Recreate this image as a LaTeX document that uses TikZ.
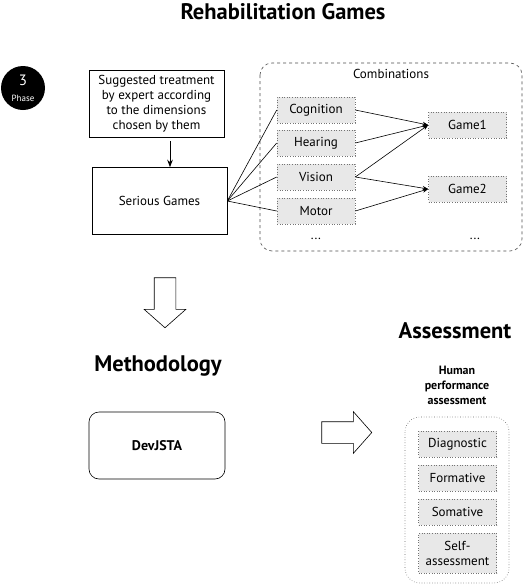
\documentclass[tikz,border=0pt]{standalone}
\usepackage{fontspec}
\setmainfont{PT Sans}
\usetikzlibrary{arrows.meta,shapes.arrows}

\begin{document}
\begin{tikzpicture}[x=1pt,y=-1pt,>=Stealth,line width=.6pt,
  every node/.style={font=\fontsize{13}{15}\selectfont,inner sep=0pt,align=center},
  bigtitle/.style={font=\bfseries\fontsize{22.5}{26}\selectfont},
  plainbox/.style={draw,minimum width=135,minimum height=67},
  dimbox/.style={draw=black!55,dotted,fill=black!9,minimum width=78,minimum height=26},
  hollow/.style={draw,single arrow,inner sep=10.5,single arrow head extend=10,
    minimum height=50,single arrow tip angle=97}]
\useasboundingbox (0,0) rectangle (527,584);

% top part
\node[bigtitle] (rehab) at (283,12) {Rehabilitation Games};
\node[circle,fill=black,text=white,minimum size=44] (phase) at (23,88)
  {\fontsize{15}{15}\selectfont 3\\[1pt]\fontsize{9}{10}\selectfont Phase};
\node[plainbox] (expert) at (156.5,103.5)
  {Suggested treatment\\by expert according\\to the dimensions\\chosen by them};
\node[plainbox] (serious) at (159.5,201) {Serious Games};
\draw[->,line width=1pt] (expert.south -| 170,0) ++(0,4) coordinate (a1) (a1) -- (serious.north -| a1);

\draw[black!70,dashed,rounded corners=12] (260,63) rectangle (522,251);
\node (comb) at (391,74) {Combinations};
\node[dimbox] (cog) at (316,110) {Cognition};
\node[dimbox] (hear) at (316,143) {Hearing};
\node[dimbox] (vis) at (316,177) {Vision};
\node[dimbox] (mot) at (316,211) {Motor};
\node[dimbox] (g1) at (467.5,125) {Game1};
\node[dimbox] (g2) at (467.5,189) {Game2};
\node (dots1) at (316,239) {...};
\node (dots2) at (475,239) {...};

\foreach \d in {cog,hear,vis,mot}
  \draw (serious.east) -- (\d.west);
\draw[->] (cog.east) -- (g1.west);
\draw[->] (hear.east) -- (g1.west);
\draw[->] (vis.east) -- (g1.west);
\draw[->] (vis.east) -- (g2.west);
\draw[->] (mot.east) -- (g2.west);

% bottom part
\node[hollow,shape border rotate=270] (down) at (165,298) {};
\node[bigtitle] (method) at (158,366) {Methodology};
\node[draw,rounded corners=10,minimum width=136,minimum height=67,
  font=\bfseries\fontsize{14}{16}\selectfont] (dev) at (157,445.5) {DevJSTA};
\node[hollow] (right) at (342,432.5) {};

\node[bigtitle] (assess) at (455,331) {Assessment};
\node[font=\bfseries\fontsize{12}{15}\selectfont] (human) at (457,385)
  {Human\\performance\\assessment};
\draw[black!60,dotted,rounded corners=15] (405,417) rectangle (509,583);
\node[dimbox] (diag) at (457.5,444) {Diagnostic};
\node[dimbox] (form) at (457.5,478) {Formative};
\node[dimbox] (som) at (457.5,512) {Somative};
\node[dimbox,minimum height=40] (self) at (457.5,553) {Self-\\assessment};
\end{tikzpicture}
\end{document}
